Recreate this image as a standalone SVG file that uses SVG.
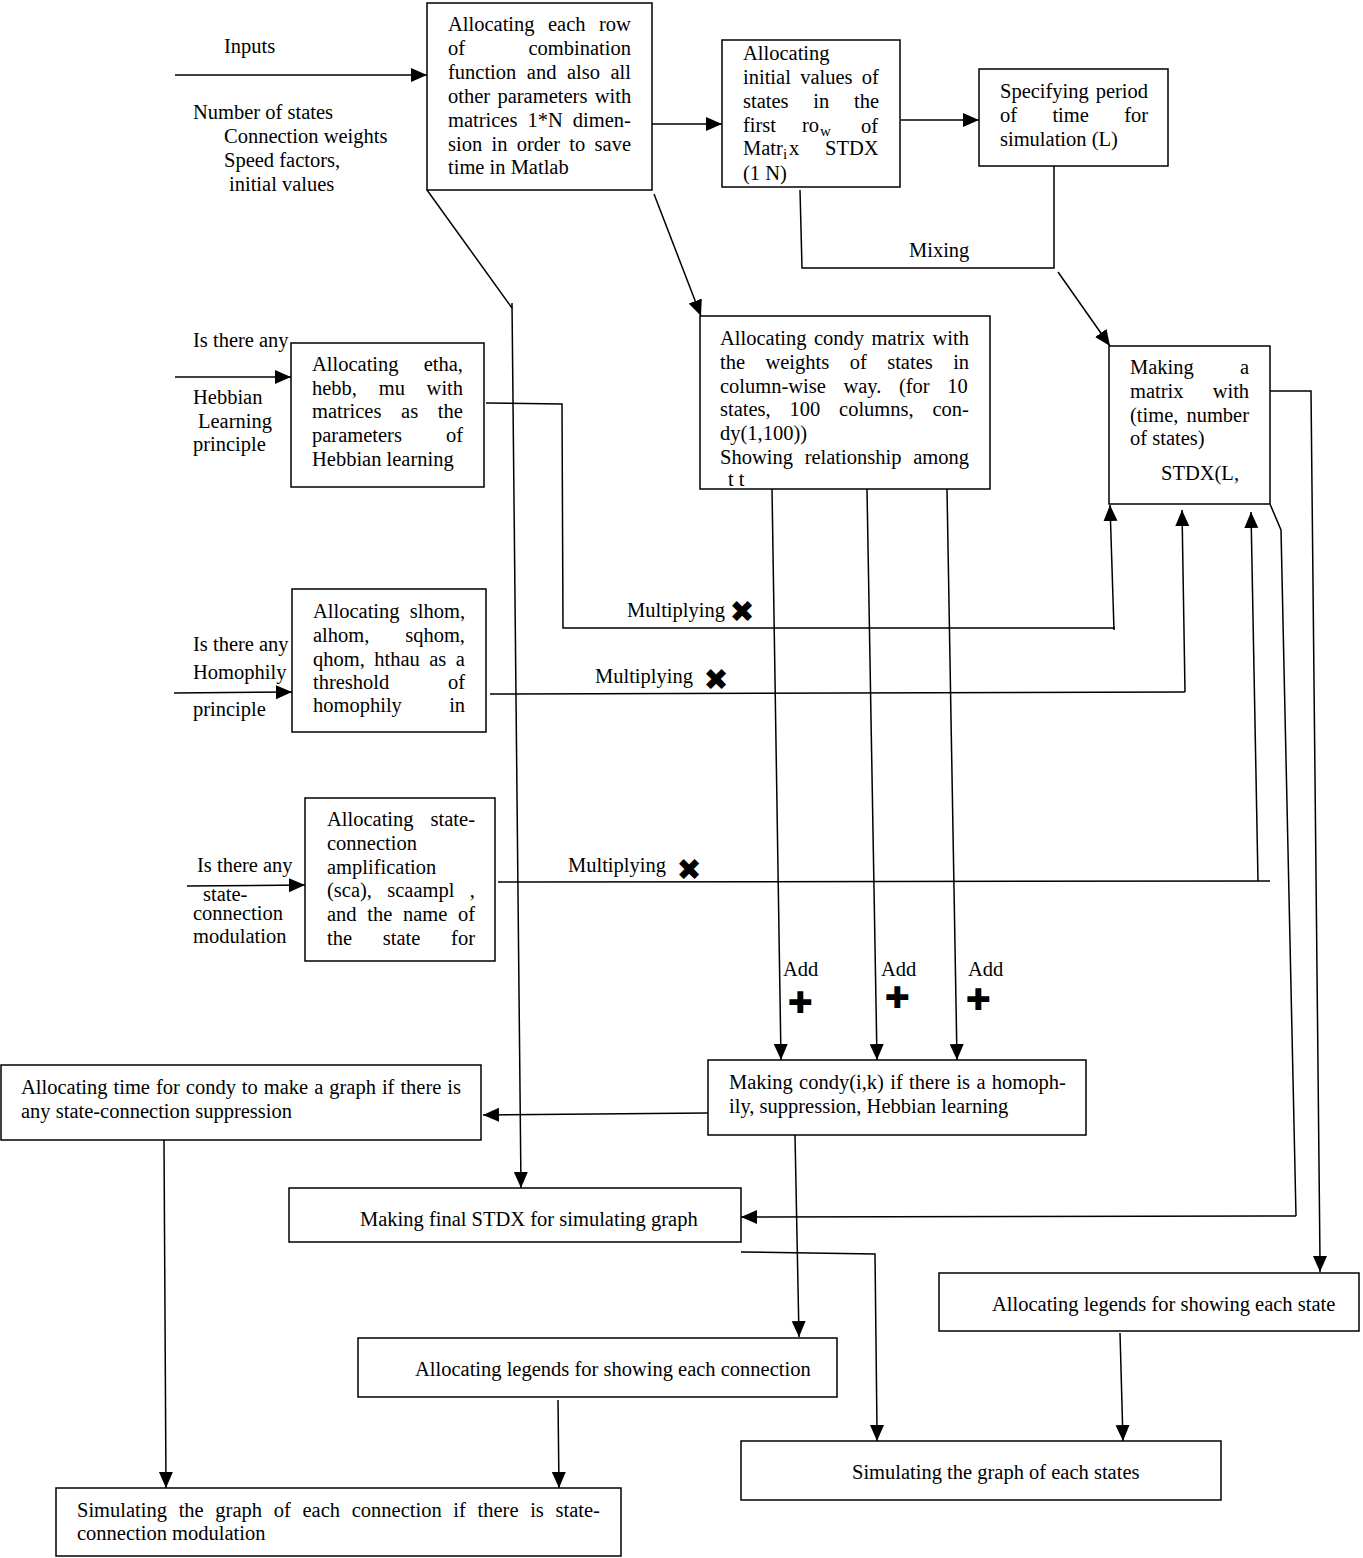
<svg xmlns="http://www.w3.org/2000/svg" width="1363" height="1558" viewBox="0 0 1363 1558">
<style>
.box{fill:#fff;stroke:#000;stroke-width:1.5}
.t{font-family:"Liberation Serif","Times New Roman",serif;font-size:20.5px;fill:#000}
.sub{font-family:"Liberation Serif","Times New Roman",serif;font-size:15px;fill:#000}
.ln{fill:none;stroke:#000;stroke-width:1.5}
.sym{font-family:"DejaVu Sans",sans-serif;font-size:30px;fill:#000;text-anchor:middle}
</style>
<defs>
<marker id="ah" markerUnits="userSpaceOnUse" markerWidth="18" markerHeight="16" refX="16" refY="7" orient="auto">
<path d="M0,0 L16,7 L0,14 z" fill="#000"/>
</marker>
</defs>
<rect width="1363" height="1558" fill="#fff"/>

<g id="connectors">
<line class="ln" x1="175" y1="75" x2="427" y2="75" marker-end="url(#ah)"/>
<line class="ln" x1="647" y1="124" x2="722" y2="124" marker-end="url(#ah)"/>
<line class="ln" x1="901" y1="120" x2="979" y2="120" marker-end="url(#ah)"/>
<polyline class="ln" points="427,190 512,308"/>
<line class="ln" x1="512" y1="303" x2="521" y2="1188" marker-end="url(#ah)"/>
<line class="ln" x1="654" y1="194" x2="701" y2="316" marker-end="url(#ah)"/>
<polyline class="ln" points="800,190 802,268 1054,268 1054,166"/>
<line class="ln" x1="1058" y1="272" x2="1110" y2="346" marker-end="url(#ah)"/>
<polyline class="ln" points="486,403 562,404 563,628 1115,628"/>
<line class="ln" x1="1114" y1="630" x2="1110" y2="505" marker-end="url(#ah)"/>
<polyline class="ln" points="490,694 1185,692"/>
<line class="ln" x1="1185" y1="692" x2="1182" y2="510" marker-end="url(#ah)"/>
<line class="ln" x1="498" y1="882" x2="1270" y2="881"/>
<line class="ln" x1="1258" y1="881" x2="1251" y2="512" marker-end="url(#ah)"/>
<line class="ln" x1="772" y1="489" x2="781" y2="1060" marker-end="url(#ah)"/>
<line class="ln" x1="867" y1="489" x2="877" y2="1060" marker-end="url(#ah)"/>
<line class="ln" x1="947" y1="489" x2="957" y2="1060" marker-end="url(#ah)"/>
<line class="ln" x1="708" y1="1113" x2="483" y2="1115" marker-end="url(#ah)"/>
<line class="ln" x1="795" y1="1135" x2="799" y2="1337" marker-end="url(#ah)"/>
<polyline class="ln" points="1270,504 1281,530 1296,1216"/>
<line class="ln" x1="1296" y1="1216" x2="741" y2="1217" marker-end="url(#ah)"/>
<polyline class="ln" points="1270,391 1311,391 1320,1260"/>
<line class="ln" x1="1320" y1="1258" x2="1320" y2="1272" marker-end="url(#ah)"/>
<polyline class="ln" points="741,1252 875,1254 877,1430"/>
<line class="ln" x1="877" y1="1428" x2="877" y2="1441" marker-end="url(#ah)"/>
<line class="ln" x1="1120" y1="1333" x2="1123" y2="1441" marker-end="url(#ah)"/>
<line class="ln" x1="164" y1="1140" x2="166" y2="1488" marker-end="url(#ah)"/>
<line class="ln" x1="558" y1="1400" x2="559" y2="1488" marker-end="url(#ah)"/>
<line class="ln" x1="175" y1="377" x2="291" y2="377" marker-end="url(#ah)"/>
<line class="ln" x1="174" y1="693" x2="292" y2="692" marker-end="url(#ah)"/>
<line class="ln" x1="187" y1="886" x2="305" y2="885" marker-end="url(#ah)"/>
</g>

<g id="labels">
<text class="t" x="224" y="53">Inputs</text>
<text class="t" x="193" y="119">Number of states</text>
<text class="t" x="224" y="143">Connection weights</text>
<text class="t" x="224" y="167">Speed factors,</text>
<text class="t" x="229" y="191">initial values</text>
<text class="t" x="193" y="347">Is there any</text>
<text class="t" x="193" y="404">Hebbian</text>
<text class="t" x="198" y="428">Learning</text>
<text class="t" x="193" y="451">principle</text>
<text class="t" x="193" y="651">Is there any</text>
<text class="t" x="193" y="679">Homophily</text>
<text class="t" x="193" y="716">principle</text>
<text class="t" x="197" y="872">Is there any</text>
<text class="t" x="203" y="901">state-</text>
<text class="t" x="193" y="920">connection</text>
<text class="t" x="193" y="943">modulation</text>
<text class="t" x="909" y="257">Mixing</text>
<text class="t" x="627" y="617">Multiplying</text>
<text class="sym" x="742" y="622">✖</text>
<text class="t" x="595" y="683">Multiplying</text>
<text class="sym" x="716" y="690">✖</text>
<text class="t" x="568" y="872">Multiplying</text>
<text class="sym" x="689" y="880">✖</text>
<text class="t" x="783" y="976">Add</text>
<text class="sym" x="800" y="1013">✚</text>
<text class="t" x="881" y="976">Add</text>
<text class="sym" x="897" y="1008">✚</text>
<text class="t" x="968" y="976">Add</text>
<text class="sym" x="978" y="1010">✚</text>
</g>

<g id="nodeA">
<rect class="box" x="427" y="3" width="225" height="187"/>
<text class="t" x="448" y="31" word-spacing="8.3">Allocating each row</text>
<text class="t" x="448" y="55" word-spacing="58.3">of combination</text>
<text class="t" x="448" y="79" word-spacing="5.4">function and also all</text>
<text class="t" x="448" y="103" word-spacing="2.2">other parameters with</text>
<text class="t" x="448" y="127" word-spacing="4.9">matrices 1*N dimen-</text>
<text class="t" x="448" y="151" word-spacing="4.2">sion in order to save</text>
<text class="t" x="448" y="174">time in Matlab</text>
</g>

<g id="nodeB">
<rect class="box" x="722" y="40" width="178" height="147"/>
<text class="t" x="743" y="60">Allocating</text>
<text class="t" x="743" y="84" word-spacing="4.2">initial values of</text>
<text class="t" x="743" y="108" word-spacing="19.6">states in the</text>
<text class="t" x="743" y="132">first</text>
<text class="t" x="802" y="132">ro</text>
<text class="sub" x="820" y="136">w</text>
<text class="t" x="861" y="133">of</text>
<text class="t" x="743" y="155">Matr</text>
<text class="sub" x="783" y="159">i</text>
<text class="t" x="789" y="155">x</text>
<text class="t" x="825" y="155">STDX</text>
<text class="t" x="743" y="180">(1 N)</text>
</g>

<g id="nodeC">
<rect class="box" x="979" y="69" width="189" height="97"/>
<text class="t" x="1000" y="98" word-spacing="1.7">Specifying period</text>
<text class="t" x="1000" y="122" word-spacing="30.2">of time for</text>
<text class="t" x="1000" y="146">simulation (L)</text>
</g>

<g id="nodeD">
<rect class="box" x="700" y="316" width="290" height="173"/>
<text class="t" x="720" y="345" word-spacing="2.35">Allocating condy matrix with</text>
<text class="t" x="720" y="369" word-spacing="15.3">the weights of states in</text>
<text class="t" x="720" y="393" word-spacing="12.4">column-wise way. (for 10</text>
<text class="t" x="720" y="416" word-spacing="13.7">states, 100 columns, con-</text>
<text class="t" x="720" y="440">dy(1,100))</text>
<text class="t" x="720" y="464" word-spacing="6.6">Showing relationship among</text>
<text class="t" x="728" y="486">t t</text>
</g>

<g id="nodeE">
<rect class="box" x="1109" y="346" width="161" height="158"/>
<text class="t" x="1130" y="374" word-spacing="41">Making a</text>
<text class="t" x="1130" y="398" word-spacing="24">matrix with</text>
<text class="t" x="1130" y="422" word-spacing="2.9">(time, number</text>
<text class="t" x="1130" y="445">of states)</text>
<text class="t" x="1161" y="480">STDX(L,</text>
</g>

<g id="nodeF">
<rect class="box" x="291" y="343" width="193" height="144"/>
<text class="t" x="312" y="371" word-spacing="20">Allocating etha,</text>
<text class="t" x="312" y="395" word-spacing="16.6">hebb, mu with</text>
<text class="t" x="312" y="418" word-spacing="14.5">matrices as the</text>
<text class="t" x="312" y="442" word-spacing="38.9">parameters of</text>
<text class="t" x="312" y="466">Hebbian learning</text>
</g>

<g id="nodeG">
<rect class="box" x="292" y="589" width="194" height="143"/>
<text class="t" x="313" y="618" word-spacing="5.1">Allocating slhom,</text>
<text class="t" x="313" y="642" word-spacing="30.7">alhom, sqhom,</text>
<text class="t" x="313" y="666" word-spacing="4.3">qhom, hthau as a</text>
<text class="t" x="313" y="689" word-spacing="53.5">threshold of</text>
<text class="t" x="313" y="712" word-spacing="42.2">homophily in</text>
</g>

<g id="nodeH">
<rect class="box" x="305" y="798" width="190" height="163"/>
<text class="t" x="327" y="826" word-spacing="11.9">Allocating state-</text>
<text class="t" x="327" y="850">connection</text>
<text class="t" x="327" y="874">amplification</text>
<text class="t" x="327" y="897" word-spacing="10.2">(sca), scaampl ,</text>
<text class="t" x="327" y="921" word-spacing="5.5">and the name of</text>
<text class="t" x="327" y="945" word-spacing="25.6">the state for</text>
</g>

<g id="nodeI">
<rect class="box" x="708" y="1060" width="378" height="75"/>
<text class="t" x="729" y="1089" word-spacing="1.2">Making condy(i,k) if there is a homoph-</text>
<text class="t" x="729" y="1113">ily, suppression, Hebbian learning</text>
</g>

<g id="nodeJ">
<rect class="box" x="1" y="1065" width="480" height="75"/>
<text class="t" x="21" y="1094" word-spacing="0.85">Allocating time for condy to make a graph if there is</text>
<text class="t" x="21" y="1118">any state-connection suppression</text>
</g>

<g id="nodeK">
<rect class="box" x="289" y="1188" width="452" height="54"/>
<text class="t" x="360" y="1226">Making final STDX for simulating graph</text>
</g>

<g id="nodeL">
<rect class="box" x="939" y="1273" width="420" height="58"/>
<text class="t" x="992" y="1311">Allocating legends for showing each state</text>
</g>

<g id="nodeM">
<rect class="box" x="358" y="1338" width="479" height="59"/>
<text class="t" x="415" y="1376">Allocating legends for showing each connection</text>
</g>

<g id="nodeN">
<rect class="box" x="741" y="1441" width="480" height="59"/>
<text class="t" x="852" y="1479">Simulating the graph of each states</text>
</g>

<g id="nodeO">
<rect class="box" x="56" y="1488" width="565" height="68"/>
<text class="t" x="77" y="1517" word-spacing="6.55">Simulating the graph of each connection if there is state-</text>
<text class="t" x="77" y="1540">connection modulation</text>
</g>
</svg>
